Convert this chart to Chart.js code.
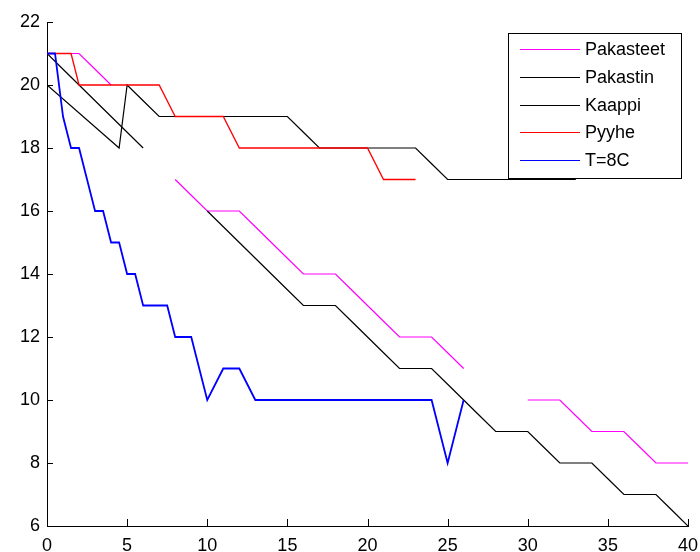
<!DOCTYPE html>
<html>
<head>
<meta charset="utf-8">
<script src="https://cdn.jsdelivr.net/npm/chart.js@4/dist/chart.umd.min.js"></script>
<style>
  html, body { margin: 0; padding: 0; background: #fff; }
  #wrap { width: 700px; height: 552px; position: relative; }
</style>
</head>
<body>
<div id="wrap"><canvas id="chart"></canvas></div>
<script>
// values (x = time, y = temperature)
const pakasteetX = [0, 1, 2, 3, 4, 5, 8, 9, 10, 12, 13, 14, 15, 16, 18, 19, 20, 21, 22, 24, 25, 26, 27, 30, 32, 33, 34, 36, 37, 38, 40];
const pakasteetY = [21, 21, 21, 20.5, 20, null, 17, 16.5, 16, 16, 15.5, 15, 14.5, 14, 14, 13.5, 13, 12.5, 12, 12, 11.5, 11, null, 10, 10, 9.5, 9, 9, 8.5, 8, 8];

const pakastinX = [0, 1, 2, 3, 4, 5, 6, 7, 10, 11, 12, 13, 14, 15, 16, 18, 19, 20, 21, 22, 24, 25, 26, 27, 28, 30, 31, 32, 34, 35, 36, 38, 39, 40];
const pakastinY = [21, 20.5, 20, 19.5, 19, 18.5, 18, null, 16, 15.5, 15, 14.5, 14, 13.5, 13, 13, 12.5, 12, 11.5, 11, 11, 10.5, 10, 9.5, 9, 9, 8.5, 8, 8, 7.5, 7, 7, 6.5, 6];

const kaappiX = [0, 4.5, 5, 6, 7, 15, 16, 17, 23, 24, 25, 33];
const kaappiY = [20, 18, 20, 19.5, 19, 19, 18.5, 18, 18, 17.5, 17, 17];

const pyyheX = [0, 1.5, 2, 7, 8, 11, 12, 20, 21, 23];
const pyyheY = [21, 21, 20, 20, 19, 19, 18, 18, 17, 17];

const t8X = [0, 0.5, 1, 1.5, 2, 2.5, 3, 3.5, 4, 4.5, 5, 5.5, 6, 7.5, 8, 9, 10, 11, 12, 13, 24, 25, 26];
const t8Y = [21, 21, 19, 18, 18, 17, 16, 16, 15, 15, 14, 14, 13, 13, 12, 12, 10, 11, 11, 10, 10, 8, 10];

const xTicks = [0, 5, 10, 15, 20, 25, 30, 35, 40];
const yTicks = [6, 8, 10, 12, 14, 16, 18, 20, 22];

const FONT = '"Liberation Sans", Arial, sans-serif';

function pts(xs, ys) {
  return xs.map((x, i) => ({ x: x, y: ys[i] }));
}

// matlab style: ticks drawn inside the axes
const insideTicks = {
  id: "insideTicks",
  afterDraw(chart) {
    const ctx = chart.ctx;
    const area = chart.chartArea;
    const xs = chart.scales.x;
    const ys = chart.scales.y;
    ctx.save();
    ctx.strokeStyle = "#000";
    ctx.lineWidth = 1;
    ctx.beginPath();
    xTicks.forEach((v) => {
      const px = Math.round(xs.getPixelForValue(v)) + 0.5;
      ctx.moveTo(px, area.bottom);
      ctx.lineTo(px, area.bottom - 7);
    });
    yTicks.forEach((v) => {
      const py = Math.round(ys.getPixelForValue(v)) + 0.5;
      ctx.moveTo(area.left, py);
      ctx.lineTo(area.left + 6, py);
    });
    ctx.stroke();
    ctx.restore();
  }
};

// boxed legend in the top right corner of the plot
const boxLegend = {
  id: "boxLegend",
  afterDraw(chart) {
    const ctx = chart.ctx;
    const area = chart.chartArea;
    const w = 173, h = 145;
    const left = area.right - 7 - w;
    const top = area.top + 11;
    ctx.save();
    ctx.fillStyle = "#fff";
    ctx.fillRect(left, top, w, h);
    ctx.strokeStyle = "#000";
    ctx.lineWidth = 1;
    ctx.strokeRect(Math.round(left) + 0.5, Math.round(top) + 0.5, w, h);
    ctx.font = "18px " + FONT;
    ctx.textBaseline = "middle";
    ctx.textAlign = "left";
    chart.data.datasets.forEach((ds, i) => {
      const y = Math.round(top + 16 + i * 27.8) + 0.5;
      ctx.strokeStyle = ds.borderColor;
      ctx.lineWidth = 1.2;
      ctx.beginPath();
      ctx.moveTo(left + 12, y);
      ctx.lineTo(left + 72, y);
      ctx.stroke();
      ctx.fillStyle = "#000";
      ctx.fillText(ds.label, left + 77, y + 1);
    });
    ctx.restore();
  }
};

new Chart(document.getElementById("chart").getContext("2d"), {
  type: "line",
  data: {
    datasets: [
      { label: "Pakasteet", data: pts(pakasteetX, pakasteetY), borderColor: "#ff00ff", borderWidth: 1.2, order: 5 },
      { label: "Pakastin", data: pts(pakastinX, pakastinY), borderColor: "#000000", borderWidth: 1.2, order: 4 },
      { label: "Kaappi", data: pts(kaappiX, kaappiY), borderColor: "#000000", borderWidth: 1.2, order: 3 },
      { label: "Pyyhe", data: pts(pyyheX, pyyheY), borderColor: "#ff0000", borderWidth: 1.3, order: 2 },
      { label: "T=8C", data: pts(t8X, t8Y), borderColor: "#0000ff", borderWidth: 1.8, order: 1 }
    ]
  },
  options: {
    responsive: true,
    maintainAspectRatio: false,
    animation: false,
    spanGaps: false,
    elements: {
      point: { radius: 0 },
      line: { tension: 0, fill: false }
    },
    layout: {
      padding: { left: 0, right: 12, top: 22, bottom: 0 }
    },
    plugins: {
      legend: { display: false },
      tooltip: { enabled: false }
    },
    scales: {
      x: {
        type: "linear",
        min: 0,
        max: 40,
        afterBuildTicks: (scale) => { scale.ticks = xTicks.map((v) => ({ value: v })); },
        afterFit: (scale) => {
          scale.height = 26;
          scale.paddingLeft = 0;
          scale.paddingRight = 0;
        },
        grid: { display: false, drawTicks: false },
        border: { display: true, color: "#000", width: 1 },
        ticks: { color: "#000", padding: 9, font: { size: 18, family: FONT } }
      },
      y: {
        min: 6,
        max: 22,
        afterBuildTicks: (scale) => { scale.ticks = yTicks.map((v) => ({ value: v })); },
        afterFit: (scale) => {
          scale.width = 47;
          scale.paddingTop = 0;
          scale.paddingBottom = 0;
        },
        grid: { display: false, drawTicks: false },
        border: { display: true, color: "#000", width: 1 },
        ticks: { color: "#000", padding: 7, font: { size: 18, family: FONT } }
      }
    }
  },
  plugins: [insideTicks, boxLegend]
});
</script>
</body>
</html>
